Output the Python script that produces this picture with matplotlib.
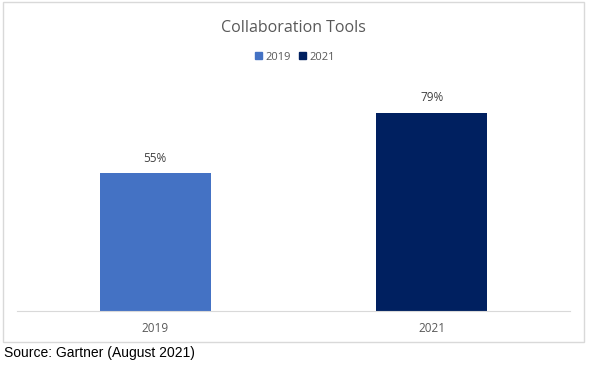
import matplotlib.pyplot as plt
from matplotlib.patches import Rectangle

categories = ['2019', '2021']
values = [55, 79]
labels = ['55%', '79%']
colors = ['#4472C4', '#002060']

W, H = 591, 365
fig = plt.figure(figsize=(W / 100, H / 100), dpi=100)

# chart border
fig.patches.append(Rectangle((3 / W, 1 - 342 / H), 581 / W, 340 / H,
                             transform=fig.transFigure, fill=False,
                             edgecolor='#D9D9D9', linewidth=1))

# plot area in pixels: x 17..570, y 85..311
ax = fig.add_axes([17 / W, 1 - 311 / H, 553 / W, 226 / H])
x = range(len(categories))
bars = ax.bar(x, values, width=0.4, color=colors)
ax.set_xlim(-0.5, 1.5)
ax.set_ylim(0, 90)
for b, lab in zip(bars, labels):
    ax.annotate(lab, (b.get_x() + b.get_width() / 2, b.get_height()),
                xytext=(0, 6), textcoords='offset points', ha='center',
                va='bottom', fontsize=8.5, color='#404040', family='Open Sans')

ax.set_xticks(list(x))
ax.set_xticklabels(categories, fontsize=8.5, color='#595959', family='Open Sans')
ax.tick_params(axis='x', length=0, pad=8)
ax.set_yticks([])
for s in ['top', 'right', 'left']:
    ax.spines[s].set_visible(False)
ax.spines['bottom'].set_color('#D9D9D9')

fig.text(293 / W, 1 - 28 / H, 'Collaboration Tools', ha='center', va='center',
         fontsize=11.5, color='#595959', family='Open Sans')

# legend
handles = [Rectangle((0, 0), 1, 1, color=c) for c in colors]
fig.legend(handles, categories, loc='center', bbox_to_anchor=(295 / W, 1 - 57 / H),
           ncol=2, frameon=False, handlelength=0.6, handleheight=0.6,
           handletextpad=0.3, columnspacing=0.8,
           prop={'family': 'Open Sans', 'size': 8})
for t in fig.legends[0].get_texts():
    t.set_color('#595959')

fig.text(4 / W, 1 - 353 / H, 'Source: Gartner (August 2021)', ha='left',
         va='center', fontsize=10, color='black', family='Liberation Sans')

fig.savefig('out.png', dpi=100)
